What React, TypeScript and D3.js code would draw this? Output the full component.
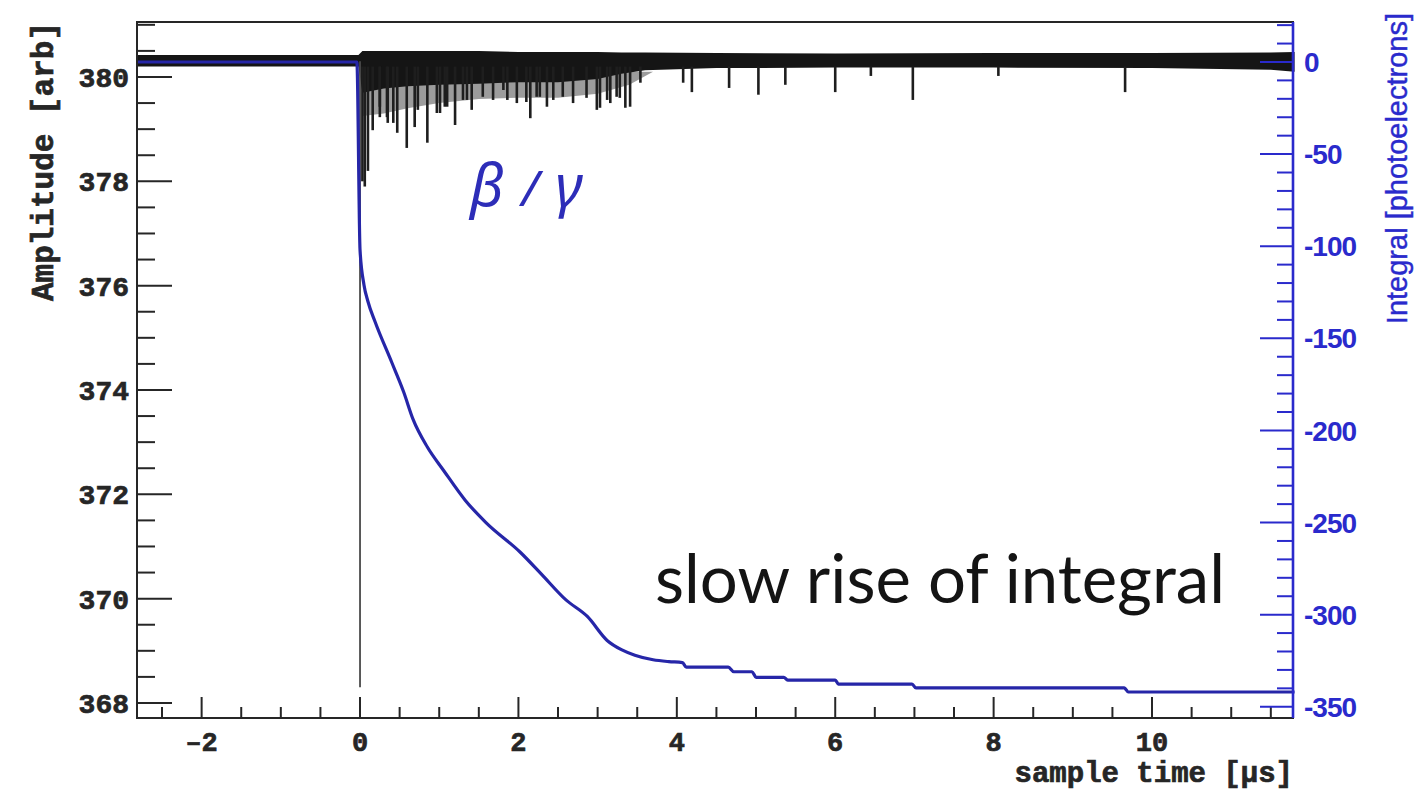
import React from 'react';
import * as d3 from 'd3';

const W = 1415;
const H = 792;
const frame = { left: 137, right: 1293, top: 22, bottom: 718 };

// axis tick labels
const ampTicks = [368, 370, 372, 374, 376, 378, 380];
const timeTicks = [-2, 0, 2, 4, 6, 8, 10];
const integralTicks = [-350, -300, -250, -200, -150, -100, -50, 0];

// integral of the pulse [photoelectrons] vs sample time [us]
const intTime = [-2.82, -0.04, 0.0, 0.05, 0.1, 0.19, 0.4, 0.55, 0.67, 0.85, 1.06, 1.33, 1.59, 2.02, 2.29, 2.6, 2.87, 3.12, 3.3, 3.47, 3.7, 3.9, 4.07,
  4.12, 4.65, 4.72, 4.95, 5.0, 5.35, 5.4, 6.0, 6.04, 6.97, 7.02, 9.65, 9.7, 11.8];
const intValue = [0, 0, -102, -121, -130, -141, -163, -179, -194, -209, -222, -238, -250, -266, -278, -292, -301, -314, -319, -322, -324.5, -325.5, -326,
  -328.5, -328.5, -331, -331, -334, -334, -335.5, -335.5, -337.7, -337.7, -339.8, -339.8, -342, -342];

// waveform: baseline noise band [arb]
const bandTime = [-2.82, -0.02, 0.03, 0.3, 0.6, 1.0, 1.5, 2.0, 2.5, 3.0, 3.3, 3.6, 4.5, 6.0, 8.0, 10.0, 11.5, 11.8];
const bandHigh = [380.42, 380.42, 380.5, 380.5, 380.5, 380.5, 380.5, 380.48, 380.48, 380.48, 380.47, 380.47, 380.46, 380.45, 380.46, 380.46, 380.47, 380.48];
const bandLow = [380.2, 380.2, 379.7, 379.78, 379.82, 379.85, 379.87, 379.9, 379.9, 379.96, 380.06, 380.13, 380.17, 380.18, 380.18, 380.17, 380.14, 380.1];

// grey haze below the band where pulses pile up
const hazeTime = [0.03, 0.3, 0.6, 1.0, 1.5, 2.0, 2.5, 3.0, 3.4, 3.7];
const hazeLow = [379.25, 379.3, 379.4, 379.5, 379.58, 379.6, 379.6, 379.68, 379.85, 380.1];

// single photoelectron spikes: time and minimum amplitude
const spikeTime = [0.03, 0.06, 0.1, 0.16, 0.25, 0.25, 0.34, 0.35, 0.42, 0.47, 0.59, 0.69, 0.73, 0.85, 0.97, 1.01, 1.07, 1.1, 1.2,
  1.3, 1.35, 1.41, 1.55, 1.68, 1.81, 1.86, 1.98, 2.1, 2.15, 2.23, 2.27, 2.36, 2.44, 2.56, 2.69, 2.86, 2.99, 3.03, 3.12, 3.16,
  3.24, 3.28, 3.35, 3.41, 3.54, 4.08, 4.19, 4.66, 5.03, 5.37, 6.0, 6.45, 6.98, 8.06, 9.66];
const spikeMin = [378.0, 377.9, 378.2, 378.98, 379.23, 379.43, 379.23, 379.12, 379.12, 378.93, 378.64, 379.04, 379.37, 378.74, 379.31,
  379.31, 379.43, 379.43, 379.08, 379.56, 379.56, 379.37, 379.62, 379.56, 379.75, 379.56, 379.5, 379.52, 379.21, 379.62, 379.62,
  379.43, 379.56, 379.62, 379.5, 379.6, 379.37, 379.41, 379.56, 379.5, 379.62, 379.6, 379.41, 379.43, 379.89, 379.89, 379.71,
  379.79, 379.66, 379.85, 379.71, 380.02, 379.56, 380.02, 379.71];

// the big dip at t = 0
const dipTime = [0.0];
const dipMin = [368.3];

const black = '#262626';
const blue = '#2a2acc';
const curveBlue = '#2626a8';
const mono = '"Liberation Mono", "DejaVu Sans Mono", monospace';
const sans = '"Liberation Sans", Arial, sans-serif';

export default function App() {
  const x = d3.scaleLinear().domain([-2.816, 11.78]).range([frame.left, frame.right]);
  const yAmp = d3.scaleLinear().domain([367.712, 381.054]).range([frame.bottom, frame.top]);
  const yInt = d3.scaleLinear().domain([-356.1, 21.7]).range([frame.bottom, frame.top]);

  const band = d3.area<number>()
    .x(i => x(bandTime[i]))
    .y0(i => yAmp(bandLow[i]))
    .y1(i => yAmp(bandHigh[i]))(d3.range(bandTime.length)) || '';
  const haze = d3.area<number>()
    .x(i => x(hazeTime[i]))
    .y0(i => yAmp(hazeLow[i]))
    .y1(() => yAmp(380.1))(d3.range(hazeTime.length)) || '';
  const integral = d3.line<number>()
    .x(i => x(intTime[i]))
    .y(i => yInt(intValue[i]))
    .curve(d3.curveMonotoneX)(d3.range(intTime.length)) || '';

  const ampMinor = d3.range(368, 381.01, 0.5).filter(v => !ampTicks.includes(v));
  const timeMinor = d3.range(-2.5, 11.8, 0.5).filter(v => !timeTicks.includes(v));
  const intMinor = d3.range(-350, 21, 10).filter(v => !integralTicks.includes(v));

  return (
    <svg width={W} height={H} style={{ position: 'absolute', left: 0, top: 0, background: '#fff' }}>
      <rect width={W} height={H} fill="#fff" />

      {/* waveform */}
      <path d={haze} fill="#5a5a5a" opacity={0.6} />
      <path d={band} fill="#151515" />
      {spikeTime.map((t, i) => (
        <line key={'s' + i} x1={x(t)} x2={x(t)} y1={yAmp(380.2)} y2={yAmp(spikeMin[i])} stroke="#1e1e1e" strokeWidth={2.6} />
      ))}
      {dipTime.map((t, i) => (
        <line key={'d' + i} x1={x(t)} x2={x(t)} y1={yAmp(380.3)} y2={yAmp(dipMin[i])} stroke="#4a4a4a" strokeWidth={1.8} />
      ))}

      {/* integral */}
      <path d={integral} fill="none" stroke={curveBlue} strokeWidth={3.2} strokeLinejoin="round" />

      {/* frame */}
      <rect x={frame.left} y={frame.top} width={frame.right - frame.left} height={frame.bottom - frame.top}
        fill="none" stroke={black} strokeWidth={2} />

      {/* left axis */}
      {ampTicks.map(v => (
        <g key={'a' + v}>
          <line x1={frame.left} x2={frame.left + 35} y1={yAmp(v)} y2={yAmp(v)} stroke={black} strokeWidth={2} />
          <text x={129} y={yAmp(v)} dy="0.36em" textAnchor="end" fontFamily={mono} fontWeight="bold" fontSize={28}
            fill={black} stroke={black} strokeWidth={0.7}>{v}</text>
        </g>
      ))}
      {ampMinor.map(v => (
        <line key={'am' + v} x1={frame.left} x2={frame.left + 18} y1={yAmp(v)} y2={yAmp(v)} stroke={black} strokeWidth={2} />
      ))}

      {/* bottom axis */}
      {timeTicks.map(v => (
        <g key={'t' + v}>
          <line x1={x(v)} x2={x(v)} y1={frame.bottom} y2={frame.bottom - 21} stroke={black} strokeWidth={2} />
          <text x={x(v)} y={751} textAnchor="middle" fontFamily={mono} fontWeight="bold" fontSize={27}
            fill={black} stroke={black} strokeWidth={0.7}>{v < 0 ? '\u2013' + Math.abs(v) : v}</text>
        </g>
      ))}
      {timeMinor.map(v => (
        <line key={'tm' + v} x1={x(v)} x2={x(v)} y1={frame.bottom} y2={frame.bottom - 11} stroke={black} strokeWidth={2} />
      ))}

      {/* right axis */}
      <line x1={frame.right} x2={frame.right} y1={frame.top} y2={frame.bottom} stroke={blue} strokeWidth={2.6} />
      {integralTicks.map(v => (
        <g key={'i' + v}>
          <line x1={frame.right} x2={frame.right - 33} y1={yInt(v)} y2={yInt(v)} stroke={blue} strokeWidth={2} />
          <text x={1304} y={yInt(v)} dy="0.36em" fontFamily={sans} fontWeight="bold" fontSize={28}
            fill={blue} letterSpacing={-1}>{v}</text>
        </g>
      ))}
      {intMinor.map(v => (
        <line key={'im' + v} x1={frame.right} x2={frame.right - 16} y1={yInt(v)} y2={yInt(v)} stroke={blue} strokeWidth={2} />
      ))}

      {/* axis titles */}
      <text transform={`translate(53,${frame.top}) rotate(-90)`} textAnchor="end" fontFamily={mono} fontWeight="bold"
        fontSize={31} fill={black} stroke={black} strokeWidth={0.7}>Amplitude [arb]</text>
      <text x={frame.right} y={782} textAnchor="end" fontFamily={mono} fontWeight="bold" fontSize={29}
        fill={black} stroke={black} strokeWidth={0.7}>sample time [µs]</text>
      <text transform={`translate(1407,13) rotate(-90)`} textAnchor="end" fontFamily={sans} fontSize={29}
        fill={blue} stroke={blue} strokeWidth={0.4}>Integral [photoelectrons]</text>

      {/* annotations */}
      <text x={470} y={206} fontFamily='"Noto Sans", "DejaVu Sans", sans-serif' fontStyle="italic" fontSize={58}
        fill="#2d2db8">β<tspan fontSize={50} dx={18}>/</tspan><tspan dx={16}>γ</tspan></text>
      <text x={655} y={603} fontFamily='Lato, "Open Sans", sans-serif' fontSize={68} fill="#141414"
        textLength={570} lengthAdjust="spacingAndGlyphs">slow rise of integral</text>
    </svg>
  );
}
